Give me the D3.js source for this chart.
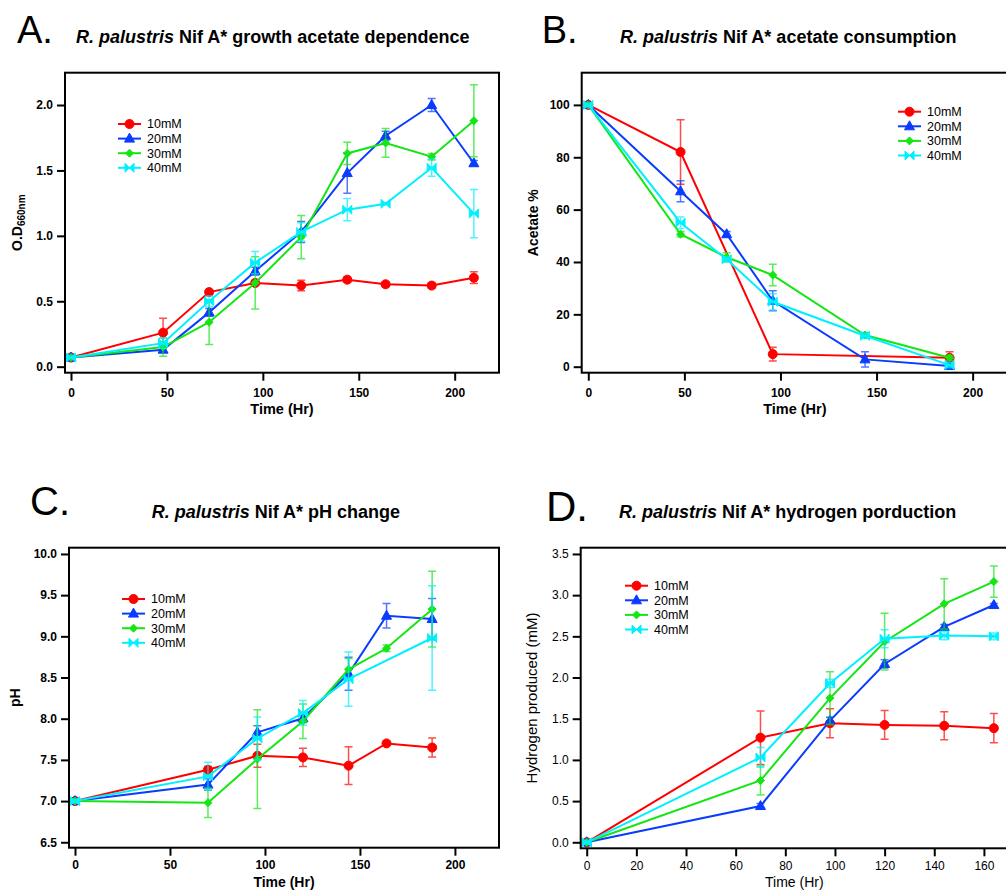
<!DOCTYPE html>
<html>
<head>
<meta charset="utf-8">
<script src="https://cdn.jsdelivr.net/npm/d3@7"></script>
<style>
  body { margin: 0; background: #fff; }
  svg { display: block; }
  text { font-family: "Liberation Sans", Arial, sans-serif; fill: #000; }
</style>
</head>
<body>
<svg id="fig" width="1006" height="890"></svg>
<script>
// ---- series ----
const seriesNames = ["10mM", "20mM", "30mM", "40mM"];
const seriesColors = ["#ff0000", "#0a3cff", "#14e614", "#00f0ff"];
const seriesShapes = ["circle", "triangle", "diamond", "bowtie"];

// ---- A. growth (OD660) ----
const growthTime = [0, 48, 72, 96, 120, 144, 164, 188, 210];
const growthOD = [
  [0.07, 0.26, 0.57, 0.64, 0.62, 0.665, 0.63, 0.62, 0.68],
  [0.07, 0.13, 0.415, 0.73, 1.03, 1.48, 1.765, 2.0, 1.555],
  [0.07, 0.15, 0.34, 0.64, 0.99, 1.63, 1.71, 1.605, 1.88],
  [0.07, 0.18, 0.50, 0.795, 1.03, 1.20, 1.245, 1.52, 1.17]
];
const growthErr = [
  [0.01, 0.11, 0.02, 0.02, 0.04, 0.02, 0.02, 0.02, 0.045],
  [0.01, 0.02, 0.03, 0.03, 0.08, 0.155, 0.035, 0.05, 0.02],
  [0.01, 0.07, 0.17, 0.20, 0.165, 0.085, 0.11, 0.025, 0.275],
  [0.01, 0.04, 0.04, 0.085, 0.07, 0.085, 0.01, 0.065, 0.185]
];

// ---- B. acetate % ----
const acetateTime = [0, 48, 72, 96, 144, 188];
const acetatePct = [
  [100, 82, null, 4.8, null, 3.4],
  [100, 67, 50.6, 25.2, 2.8, 0.3],
  [100, 50.6, 41.8, 35, 12.1, 3.4],
  [100, 55, 41, 24.8, 11.8, 0.6]
];
const acetateErr = [
  [0.5, 12.3, null, 2.6, null, 2.3],
  [0.5, 4, 1, 3.8, 2.9, 1],
  [0.5, 1, 1.7, 4.1, 1, 1],
  [0.5, 2.2, 1, 3.1, 1, 1]
];

// ---- C. pH ----
const phTime = [0, 70, 96, 120, 144, 164, 188];
const phValue = [
  [7.0, 7.38, 7.55, 7.53, 7.43, 7.70, 7.65],
  [7.0, 7.20, 7.835, 8.005, 8.545, 9.25, 9.21],
  [7.0, 6.98, 7.51, 7.97, 8.60, 8.855, 9.33],
  [7.0, 7.30, 7.76, 8.07, 8.48, null, 8.98]
];
const phErr = [
  [0.02, 0.04, 0.14, 0.11, 0.23, 0.01, 0.115],
  [0.02, 0.07, 0.08, 0.05, 0.20, 0.15, 0.25],
  [0.02, 0.18, 0.60, 0.21, 0.13, 0.04, 0.46],
  [0.02, 0.17, 0.26, 0.15, 0.33, null, 0.635]
];

// ---- D. hydrogen ----
const h2Time = [0, 70, 98, 120, 144, 164];
const h2Value = [
  [0, 1.27, 1.445, 1.425, 1.415, 1.385],
  [0, 0.44, 1.477, 2.165, 2.615, 2.88],
  [0, 0.75, 1.75, 2.435, 2.895, 3.165],
  [0, 1.03, 1.93, 2.47, 2.51, 2.50]
];
const h2Err = [
  [0.02, 0.325, 0.175, 0.175, 0.17, 0.178],
  [0.02, 0.03, 0.04, 0.05, 0.03, 0.02],
  [0.02, 0.175, 0.32, 0.345, 0.305, 0.19],
  [0.02, 0.12, 0.05, 0.11, 0.05, 0.04]
];

const svg = d3.select("#fig");

function markerPath(shape) {
  if (shape == "circle") return d3.symbol(d3.symbolCircle, 64)();
  if (shape == "triangle") return "M0,-5.5L5,3.5L-5,3.5Z";
  if (shape == "diamond") return "M0,-4L4,0L0,4L-4,0Z";
  return "M-4.5,-4.5L4.5,4.5L4.5,-4.5L-4.5,4.5Z"; // bowtie
}

function drawPanel(p) {
  let g = svg.append("g");
  let fw = p.bold ? "bold" : "normal";

  let x = d3.scaleLinear().domain(p.xDomain).range([p.frame.l, p.frame.r]);
  let y = d3.scaleLinear().domain(p.yDomain).range([p.frame.b, p.frame.t]);

  // panel letter and title
  g.append("text")
    .attr("x", p.letterPos[0]).attr("y", p.letterPos[1])
    .style("font-size", p.letterSize + "px")
    .text(p.letter);
  let t = g.append("text")
    .attr("x", p.titlePos[0]).attr("y", p.titlePos[1])
    .style("font-size", "18px").style("font-weight", "bold");
  t.append("tspan").style("font-style", "italic").text("R. palustris");
  t.append("tspan").text(" Nif A* " + p.title);

  // axes
  let yAxis = d3.axisLeft(y).tickValues(p.yTicks).tickFormat(d3.format(p.yFormat))
    .tickSize(8).tickPadding(4);
  let ya = g.append("g").attr("transform", "translate(" + p.frame.l + ",0)").call(yAxis);
  let xAxis = d3.axisBottom(x).tickValues(p.xTicks).tickFormat(d3.format("d"))
    .tickSize(8).tickPadding(p.xTickPad);
  let xa = g.append("g").attr("transform", "translate(0," + p.frame.b + ")").call(xAxis);
  [ya, xa].forEach(a => {
    a.select(".domain").remove();
    a.selectAll("line").attr("stroke", "#000").attr("stroke-width", 2);
    a.selectAll("text").style("font-size", "12px").style("font-weight", fw)
      .style("font-family", '"Liberation Sans", Arial, sans-serif').attr("fill", "#000");
  });

  // axis labels
  g.append("text")
    .attr("x", (p.frame.l + p.frame.r) / 2).attr("y", p.xLabelY)
    .attr("text-anchor", "middle")
    .style("font-size", p.xLabelSize + "px").style("font-weight", fw)
    .text("Time (Hr)");
  let yl = g.append("text")
    .attr("transform", "translate(" + p.yLabelX + "," + (p.frame.t + p.frame.b) / 2 + ") rotate(-90)")
    .attr("text-anchor", "middle").attr("dy", "0.35em")
    .style("font-size", p.yLabelSize + "px").style("font-weight", fw);
  if (p.yLabelSub) {
    yl.append("tspan").text(p.yLabel);
    yl.append("tspan").attr("dy", "0.3em").style("font-size", "10px").text(p.yLabelSub);
  } else {
    yl.text(p.yLabel);
  }

  // series
  let clip = "clip" + p.letter[0];
  g.append("clipPath").attr("id", clip).append("rect")
    .attr("x", p.frame.l).attr("y", p.frame.t)
    .attr("width", p.frame.r - p.frame.l).attr("height", p.frame.b - p.frame.t);
  let plot = g.append("g").attr("clip-path", "url(#" + clip + ")");

  p.values.forEach((vals, si) => {
    let color = seriesColors[si];
    let pts = p.time.map((tm, i) => ({ t: tm, v: vals[i], e: p.errs[si][i] }))
      .filter(d => d.v != null);
    let sg = plot.append("g");
    sg.selectAll(".err").data(pts).enter().append("path")
      .attr("d", d => {
        let cx = x(d.t), y0 = y(d.v - d.e), y1 = y(d.v + d.e);
        return "M" + cx + "," + y0 + "V" + y1 +
          "M" + (cx - 4) + "," + y0 + "H" + (cx + 4) +
          "M" + (cx - 4) + "," + y1 + "H" + (cx + 4);
      })
      .attr("stroke", color).attr("stroke-opacity", 0.7).attr("stroke-width", 1.5).attr("fill", "none");
    sg.append("path").datum(pts)
      .attr("d", d3.line().x(d => x(d.t)).y(d => y(d.v)))
      .attr("fill", "none").attr("stroke", color).attr("stroke-width", 2);
    sg.selectAll(".mk").data(pts).enter().append("path")
      .attr("transform", d => "translate(" + x(d.t) + "," + y(d.v) + ")")
      .attr("d", markerPath(seriesShapes[si]))
      .attr("fill", color).attr("stroke", color).attr("stroke-width", 1);
  });

  // frame
  g.append("rect")
    .attr("x", p.frame.l).attr("y", p.frame.t)
    .attr("width", p.frame.r - p.frame.l).attr("height", p.frame.b - p.frame.t)
    .attr("fill", "none").attr("stroke", "#000").attr("stroke-width", 2);

  // legend
  seriesNames.forEach((name, si) => {
    let ly = p.legend[1] + si * 14.6;
    let lg = g.append("g");
    lg.append("line")
      .attr("x1", p.legend[0]).attr("x2", p.legend[0] + 23)
      .attr("y1", ly).attr("y2", ly)
      .attr("stroke", seriesColors[si]).attr("stroke-width", 2);
    lg.append("path")
      .attr("transform", "translate(" + (p.legend[0] + 11.5) + "," + ly + ")")
      .attr("d", markerPath(seriesShapes[si]))
      .attr("fill", seriesColors[si]).attr("stroke", seriesColors[si]);
    lg.append("text")
      .attr("x", p.legend[0] + 29).attr("y", ly).attr("dy", "0.35em")
      .style("font-size", "12.5px")
      .text(name);
  });
}

drawPanel({
  letter: "A.", letterPos: [17, 43], letterSize: 38,
  title: "growth acetate dependence", titlePos: [76, 43],
  frame: { l: 65, t: 72.7, r: 499, b: 372.7 },
  xDomain: [-3.13, 223.1], yDomain: [-0.046, 2.247],
  xTicks: [0, 50, 100, 150, 200], yTicks: [0, 0.5, 1.0, 1.5, 2.0], yFormat: ".1f", xTickPad: 8,
  bold: true, yLabel: "O.D", yLabelSub: "660nm", yLabelX: 17, yLabelSize: 14,
  xLabelY: 414, xLabelSize: 14.5,
  time: growthTime, values: growthOD, errs: growthErr, legend: [118, 124]
});

drawPanel({
  letter: "B.", letterPos: [541.7, 43], letterSize: 38,
  title: "acetate consumption", titlePos: [620, 43],
  frame: { l: 581.7, t: 72.7, r: 1008, b: 372.7 },
  xDomain: [-3.43, 218.4], yDomain: [-2.29, 112.3],
  xTicks: [0, 50, 100, 150, 200], yTicks: [0, 20, 40, 60, 80, 100], yFormat: "d", xTickPad: 8,
  bold: true, yLabel: "Acetate %", yLabelX: 533, yLabelSize: 14,
  xLabelY: 414, xLabelSize: 14.5,
  time: acetateTime, values: acetatePct, errs: acetateErr, legend: [898, 111.7]
});

drawPanel({
  letter: "C.", letterPos: [30, 515], letterSize: 40,
  title: "pH change", titlePos: [151.7, 518],
  frame: { l: 69, t: 547.7, r: 499, b: 847.7 },
  xDomain: [-3.16, 223.2], yDomain: [6.434, 10.076],
  xTicks: [0, 50, 100, 150, 200], yTicks: [6.5, 7.0, 7.5, 8.0, 8.5, 9.0, 9.5, 10.0], yFormat: ".1f", xTickPad: 5,
  bold: true, yLabel: "pH", yLabelX: 15, yLabelSize: 14,
  xLabelY: 887, xLabelSize: 14,
  time: phTime, values: phValue, errs: phErr, legend: [122, 599]
});

drawPanel({
  letter: "D.", letterPos: [546, 520.7], letterSize: 42,
  title: "hydrogen porduction", titlePos: [619, 518],
  frame: { l: 580.7, t: 547.7, r: 1008, b: 848.3 },
  xDomain: [-2.42, 169.7], yDomain: [-0.073, 3.576],
  xTicks: [0, 20, 40, 60, 80, 100, 120, 140, 160], yTicks: [0, 0.5, 1.0, 1.5, 2.0, 2.5, 3.0, 3.5], yFormat: ".1f", xTickPad: 5,
  bold: false, yLabel: "Hydrogen produced (mM)", yLabelX: 532, yLabelSize: 15,
  xLabelY: 887, xLabelSize: 14,
  time: h2Time, values: h2Value, errs: h2Err, legend: [625, 585.7]
});
</script>
</body>
</html>
